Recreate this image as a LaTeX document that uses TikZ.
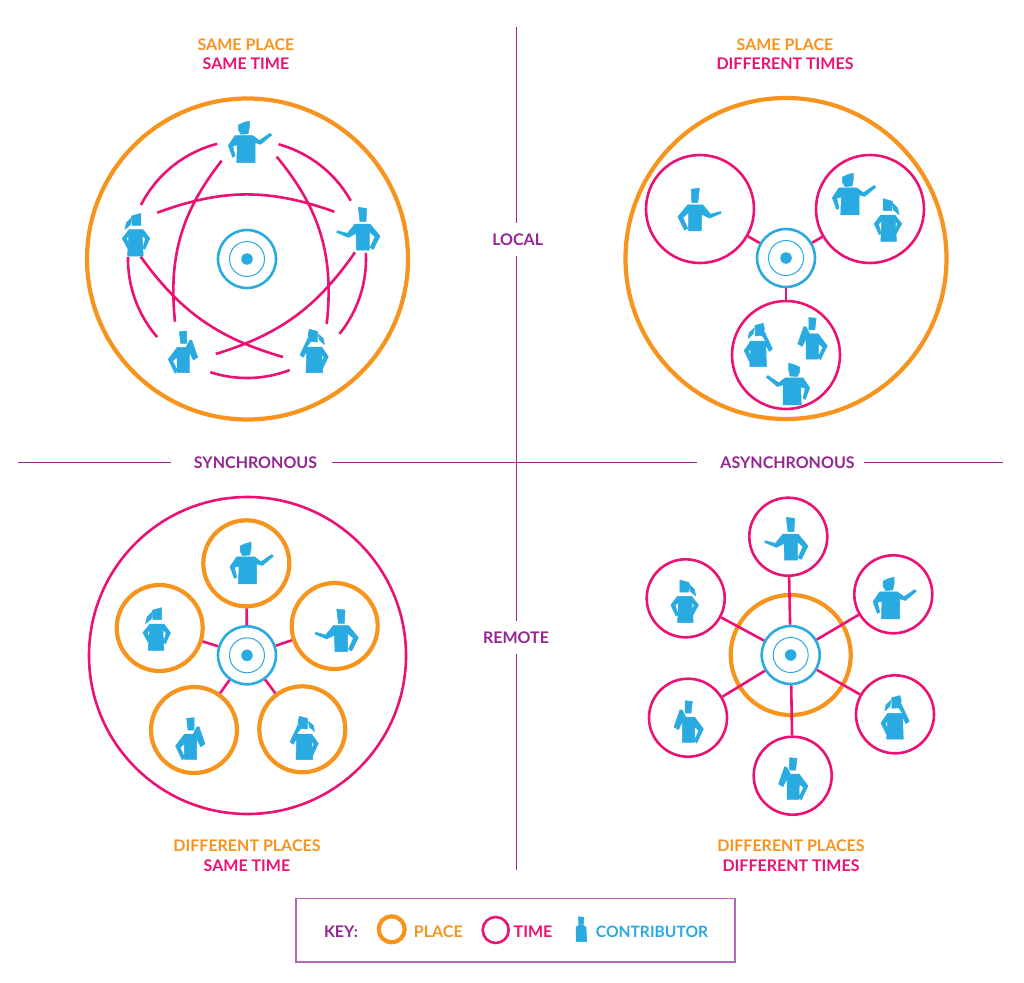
\documentclass[tikz,border=0pt]{standalone}
\usepackage{fontspec}
\setmainfont{Lato}
\definecolor{placecol}{HTML}{F7941E}
\definecolor{timecol}{HTML}{EC1273}
\definecolor{contribcol}{HTML}{29ABE2}
\definecolor{axiscol}{HTML}{93278F}
\definecolor{keycol}{HTML}{B469B4}
\newcommand{\hubat}[2]{
\node[hubring] (#1) at (#2) {};
\node[hubinner] (#1i) at (#2) {};
\node[hubdot] (#1d) at (#2) {};
}
\begin{document}
\begin{tikzpicture}[
x=1pt,y=-1pt,
placering/.style={draw=placecol,circle,inner sep=0pt,line width=4.2pt},
timering/.style={draw=timecol,circle,inner sep=0pt,line width=2.6pt},
hubring/.style={draw=contribcol,circle,inner sep=0pt,line width=2.6pt,minimum size=58pt},
hubinner/.style={draw=contribcol,circle,inner sep=0pt,line width=1pt,minimum size=35pt},
hubdot/.style={fill=contribcol,circle,inner sep=0pt,minimum size=11.5pt},
timeline/.style={timecol,line width=2.6pt},
axisline/.style={axiscol,line width=1pt},
fighape/.style={fill=contribcol,draw=contribcol,line width=0.5pt,line join=round},
placetext/.style={text=placecol,font=\bfseries\fontsize{16}{18}\selectfont,inner sep=0pt,yshift=-0.8pt},
timetext/.style={text=timecol,font=\bfseries\fontsize{16}{18}\selectfont,inner sep=0pt,yshift=-0.8pt},
axistext/.style={text=axiscol,font=\bfseries\fontsize{16}{18}\selectfont,inner ysep=10.5pt,inner xsep=0pt,yshift=-0.8pt},
contribtext/.style={text=contribcol,font=\bfseries\fontsize{15.6}{18}\selectfont,inner sep=0pt,yshift=-0.8pt},
figA/.pic={
\path[fighape] (-11.7,-16.8) -- (-6.7,-19.2) -- (-0.7,-20.8) -- (-0.7,-14) -- (-2,-8) -- (-9,-7.5) -- (-11.7,-12) -- cycle;
\path[fighape] (-15,-6.2) -- (2.7,-6.2) -- (9.3,-1.2) -- (20,-8.5) -- (21.7,-6.8) -- (10.7,2.5) -- (5,0.8) -- (5,20.8) -- (-13.3,20.8) -- (-12.7,3.2) -- (-17.3,4.2) -- (-15,14.2) -- (-17.3,15.5) -- (-21.7,3.8) -- cycle;
},
figB/.pic={
\path[fighape] (0,-21.3) -- (8.3,-20.3) -- (7.7,-7) -- (1.7,-7) -- cycle;
\path[fighape] (-3.3,-4.7) -- (11.7,-4.7) -- (21.7,7.3) -- (15,20.7) -- (11.7,19) -- (16.7,8) -- (11,3) -- (11,21.3) -- (-1.7,21.3) -- (-2.3,4.7) -- (-10,8.7) -- (-21.7,3.7) -- (-21,2) -- (-11,4.7) -- cycle;
},
figC/.pic={
\path[fighape] (-4.5,-18.7) -- (4.8,-21.3) -- (4.8,-9.3) -- (-3.8,-9.3) -- cycle;
\path[fighape] (-4.5,-17) -- (-9.5,-12) -- (-11.2,-5.3) -- (-5.2,-10.3) -- cycle;
\path[fighape] (-6.8,-5) -- (7.2,-5) -- (13.8,3.7) -- (8.8,14.7) -- (6.8,13.3) -- (9.5,4) -- (6.2,0.7) -- (7.2,21.3) -- (-8.5,21.3) -- (-7.2,1.3) -- (-9.5,3.3) -- (-6,14.7) -- (-7.8,14.7) -- (-13.8,3.7) -- cycle;
},
figD/.pic={
\path[fighape] (-3.7,-20.3) -- (3.7,-21) -- (3.7,-8.7) -- (-2.3,-8.7) -- cycle;
\path[fighape] (-5.7,-4.7) -- (3,-4.7) -- (6.3,-11.3) -- (8.7,-12) -- (14.7,5.3) -- (10.3,8) -- (6.3,-0.3) -- (6.3,20.7) -- (-5.7,20.7) -- (-6,5.3) -- (-10.3,8.7) -- (-5.7,18.7) -- (-8,21.3) -- (-14.7,7.3) -- cycle;
},
figE/.pic={
\path[fighape] (-4.7,-21.7) -- (3.7,-19.5) -- (3.3,-9) -- (-3,-9.5) -- (-6,-16) -- cycle;
\path[fighape] (4.5,-16.7) -- (9.3,-12.5) -- (10.5,-6.5) -- (5.3,-11) -- cycle;
\path[fighape] (-7.3,-4) -- (7.7,-4) -- (14.3,5.7) -- (8.7,17.3) -- (6,15.7) -- (10,6.3) -- (7.7,3) -- (8.7,21.7) -- (-8,21.7) -- (-7.3,0) -- (-10.7,6.3) -- (-14,4) -- (-5.7,-13.7) -- (-3,-10) -- cycle;
},
figkey/.pic={
\path[fighape] (-2.7,-12.3) -- (3,-11.7) -- (2.3,-4.6) -- (-2.3,-4.6) -- cycle;
\path[fighape] (-2.3,-3.8) -- (2.3,-3.8) -- (5,-1.7) -- (5.7,12.7) -- (-5,12.7) -- (-5,-1.7) -- cycle;
}
]
\fill[white] (0,0) rectangle (1024,982);
\useasboundingbox (0,0) rectangle (1024,982);

\coordinate (axtop) at (516,27);
\coordinate (axbot) at (516,870);
\coordinate (axleft) at (18,462);
\coordinate (axright) at (1003,462);
\node[axistext] (local) at (517.7,238.5) {LOCAL};
\node[axistext] (remote) at (516,636.5) {REMOTE};
\node[axistext] (sync) at (255.5,462) {SYNCHRONOUS};
\node[axistext] (async) at (787.5,462) {ASYNCHRONOUS};
\draw[axisline] (axtop) -- (axtop|-local.north);
\draw[axisline] (axtop|-local.south) -- (axtop|-remote.north);
\draw[axisline] (axbot|-remote.south) -- (axbot);
\draw[axisline,shorten >=23pt] (axleft) -- (sync.west|-axleft);
\draw[axisline,shorten <=15pt,shorten >=23pt] (sync.east|-axleft) -- (async.west|-axleft);
\draw[axisline,shorten <=9pt] (async.east|-axleft) -- (axright);

\node[placetext] (t1a) at (246,44) {SAME PLACE};
\node[timetext] (t1b) at (246,63) {SAME TIME};
\node[placetext] (t2a) at (785,44) {SAME PLACE};
\node[timetext] (t2b) at (785,63) {DIFFERENT TIMES};
\node[placetext] (t3a) at (247,845) {DIFFERENT PLACES};
\node[timetext] (t3b) at (247,865) {SAME TIME};
\node[placetext] (t4a) at (791,845) {DIFFERENT PLACES};
\node[timetext] (t4b) at (791,865) {DIFFERENT TIMES};

\node[placering,minimum size=321pt] (place1) at (247.5,259) {};
\hubat{hub1}{247,259}
\draw[timeline] (hub1.center) ++(74.6:119pt) arc[start angle=74.6,end angle=29.3,radius=119pt];
\draw[timeline] (hub1.center) ++(3:119pt) arc[start angle=3,end angle=-39,radius=119pt];
\draw[timeline] (hub1.center) ++(-69:119pt) arc[start angle=-69,end angle=-108,radius=119pt];
\draw[timeline] (hub1.center) ++(-139:119pt) arc[start angle=-139,end angle=-181,radius=119pt];
\draw[timeline] (hub1.center) ++(153:119pt) arc[start angle=153,end angle=104.5,radius=119pt];
\coordinate (s1a) at (221.7,160.7);
\coordinate (s1b) at (175,321.7);
\coordinate (s2a) at (276.7,156.7);
\coordinate (s2b) at (326.7,324);
\coordinate (s3a) at (157.3,212.7);
\coordinate (s3b) at (334.3,211.7);
\coordinate (s4a) at (140.7,256.7);
\coordinate (s4b) at (283,357);
\coordinate (s5a) at (355,252.3);
\coordinate (s5b) at (215.7,354);
\draw[timeline] (s1a) to[bend right=22] (s1b);
\draw[timeline] (s2a) to[bend left=23] (s2b);
\draw[timeline] (s3a) to[bend left=20] (s3b);
\draw[timeline] (s4a) to[bend right=19] (s4b);
\draw[timeline] (s5a) to[bend left=19] (s5b);
\pic at (250,141.8) {figA};
\pic at (358.3,228.7) {figB};
\pic at (136,234.7) {figC};
\pic at (183,352) {figD};
\pic at (314,351) {figE};

\node[placering,minimum size=321pt] (place2) at (786,258.5) {};
\hubat{hub2}{786,258}
\node[timering,minimum size=108pt] (time21) at (700,209) {};
\node[timering,minimum size=108pt] (time22) at (870,209) {};
\node[timering,minimum size=108pt] (time23) at (786,355) {};
\draw[timeline] (hub2) -- (time21);
\draw[timeline] (hub2) -- (time22);
\draw[timeline] (hub2) -- (time23);
\pic[xscale=-1] at (699.5,209.5) {figB};
\pic at (854,194) {figA};
\pic[xscale=-1] at (888,220) {figC};
\pic[xscale=-1] at (758.5,345) {figE};
\pic[xscale=-1] at (812.5,338.5) {figD};
\pic[xscale=-1] at (788,384) {figA};

\node[timering,minimum size=317pt] (time3) at (247.5,655.5) {};
\hubat{hub3}{247,655.3}
\node[placering,minimum size=86pt] (place31) at (246.3,563.3) {};
\node[placering,minimum size=86pt] (place32) at (334.7,626) {};
\node[placering,minimum size=86pt] (place33) at (159.7,628) {};
\node[placering,minimum size=86pt] (place34) at (194,730) {};
\node[placering,minimum size=86pt] (place35) at (302.3,729.3) {};
\draw[timeline] (hub3) -- (place31);
\draw[timeline] (hub3) -- (place32);
\draw[timeline] (hub3) -- (place33);
\draw[timeline] (hub3) -- (place34);
\draw[timeline] (hub3) -- (place35);
\pic at (251.7,563) {figA};
\pic at (336.7,630.3) {figB};
\pic at (156.7,629) {figC};
\pic at (190.3,738.7) {figD};
\pic at (304,738) {figE};

\node[placering,minimum size=120pt] (place4) at (790.7,655) {};
\node[timering,minimum size=78pt] (time41) at (788.3,536.7) {};
\node[timering,minimum size=78pt] (time42) at (893.3,594.3) {};
\node[timering,minimum size=78pt] (time43) at (895,714.3) {};
\node[timering,minimum size=78pt] (time44) at (792.7,775.7) {};
\node[timering,minimum size=78pt] (time45) at (688,717.7) {};
\node[timering,minimum size=78pt] (time46) at (685.7,598.3) {};
\hubat{hub4}{790.7,655}
\draw[timeline] (hub4) -- (time41);
\draw[timeline] (hub4) -- (time42);
\draw[timeline] (hub4) -- (time43);
\draw[timeline] (hub4) -- (time44);
\draw[timeline] (hub4) -- (time45);
\draw[timeline] (hub4) -- (time46);
\pic at (786.3,538.7) {figB};
\pic at (894.7,598) {figA};
\pic[xscale=-1] at (895.3,717.3) {figE};
\pic[xscale=-1] at (793.3,778.7) {figD};
\pic[xscale=-1] at (688.7,721.7) {figD};
\pic[xscale=-1] at (684.7,601.3) {figC};

\node[draw=keycol,line width=1.5pt,minimum width=439pt,minimum height=63.5pt,inner sep=0pt] (keybox) at (515.5,930) {};
\node[text=axiscol,font=\bfseries\fontsize{16}{18}\selectfont,inner sep=0pt,yshift=-0.8pt] (keylabel) at (341,931) {KEY:};
\node[placering,minimum size=26pt] (keyplace) at (391.7,929.3) {};
\node[placetext] (keyplacetext) at (438.3,931) {PLACE};
\node[timering,minimum size=26pt] (keytime) at (495.7,930) {};
\node[timetext] (keytimetext) at (533,931) {TIME};
\pic at (581,929) {figkey};
\node[contribtext] (keycontrib) at (652,931) {CONTRIBUTOR};
\end{tikzpicture}
\end{document}
